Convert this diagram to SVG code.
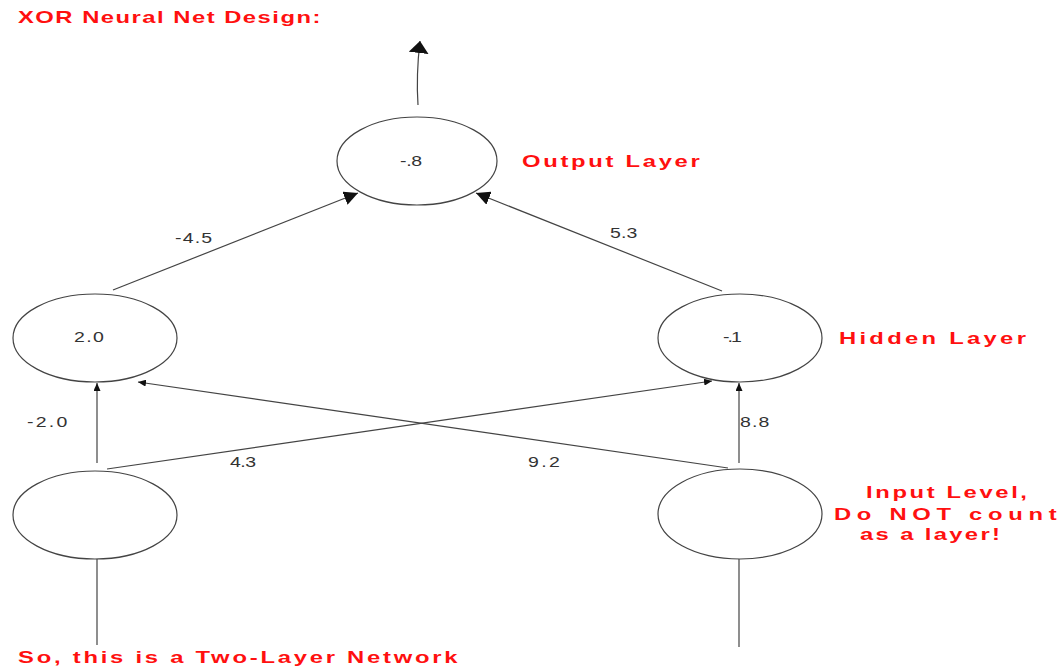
<svg xmlns="http://www.w3.org/2000/svg" width="1060" height="668" viewBox="0 0 1060 668">
<style>
.node{fill:#fff;stroke:#444;stroke-width:1.2}
.edge{fill:none;stroke:#444;stroke-width:1.2}
.val{font-family:"Liberation Sans",Arial,sans-serif;font-size:15px;fill:#333}
.note{font-family:"Liberation Sans",Arial,sans-serif;font-size:17px;font-weight:bold;fill:#ff1010}
</style>
<defs>
<marker id="big" viewBox="0 0 12 20" refX="12" refY="10" markerWidth="12" markerHeight="20" markerUnits="userSpaceOnUse" orient="auto"><path d="M0,0 L12,10 L0,20 Z" fill="#111"/></marker>
<marker id="mid" viewBox="0 0 14 14" refX="14" refY="7" markerWidth="14" markerHeight="14" markerUnits="userSpaceOnUse" orient="auto"><path d="M0,0 L14,7 L0,14 Z" fill="#111"/></marker>
<marker id="small" viewBox="0 0 8 7" refX="8" refY="3.5" markerWidth="8" markerHeight="7" markerUnits="userSpaceOnUse" orient="auto"><path d="M0,0 L8,3.5 L0,7 Z" fill="#111"/></marker>
</defs>
<rect width="1060" height="668" fill="#fff"/>
<text class="note" transform="translate(18,23) scale(1.4,1)" font-size="15" textLength="216" lengthAdjust="spacing">XOR Neural Net Design:</text>
<g id="connectors">
<path class="edge" d="M418,105 Q416,75 420,41" marker-end="url(#big)"/>
<line class="edge" x1="113" y1="290" x2="358" y2="193" marker-end="url(#mid)"/>
<line class="edge" x1="722" y1="291" x2="476" y2="193" marker-end="url(#mid)"/>
<line class="edge" x1="97" y1="463" x2="97" y2="383" marker-end="url(#small)"/>
<line class="edge" x1="739" y1="463" x2="739" y2="383" marker-end="url(#small)"/>
<line class="edge" x1="107" y1="469" x2="712" y2="381" marker-end="url(#small)"/>
<line class="edge" x1="728" y1="468" x2="138" y2="382" marker-end="url(#small)"/>
<line class="edge" x1="97" y1="559" x2="97" y2="645"/>
<line class="edge" x1="739" y1="559" x2="739" y2="647"/>
<text class="val" transform="translate(175,243) scale(1.3,1)" textLength="28.5" lengthAdjust="spacing">-4.5</text>
<text class="val" transform="translate(610,238) scale(1.3,1)" textLength="21" lengthAdjust="spacing">5.3</text>
<text class="val" transform="translate(27,427) scale(1.3,1)" textLength="31" lengthAdjust="spacing">-2.0</text>
<text class="val" transform="translate(740,427) scale(1.3,1)" textLength="22.5" lengthAdjust="spacing">8.8</text>
<text class="val" transform="translate(230,467) scale(1.3,1)" textLength="20" lengthAdjust="spacing">4.3</text>
<text class="val" transform="translate(528,467) scale(1.3,1)" textLength="24.5" lengthAdjust="spacing">9.2</text>
</g>
<g id="output">
<ellipse class="node" cx="417" cy="161" rx="80" ry="44"/>
<text class="val" transform="translate(400,166) scale(1.3,1)" textLength="17" lengthAdjust="spacing">-.8</text>
</g>
<g id="hidden1">
<ellipse class="node" cx="95" cy="338" rx="82" ry="44"/>
<text class="val" transform="translate(74,342) scale(1.3,1)" textLength="23" lengthAdjust="spacing">2.0</text>
</g>
<g id="hidden2">
<ellipse class="node" cx="740" cy="338" rx="82" ry="44"/>
<text class="val" transform="translate(723,342) scale(1.3,1)" textLength="14.5" lengthAdjust="spacing">-.1</text>
</g>
<g id="input1">
<ellipse class="node" cx="95" cy="515" rx="82" ry="44"/>
</g>
<g id="input2">
<ellipse class="node" cx="740" cy="514" rx="82" ry="45"/>
</g>
<g id="labels">
<text class="note" transform="translate(522,167) scale(1.4,1)" textLength="127" lengthAdjust="spacing">Output Layer</text>
<text class="note" transform="translate(839,344) scale(1.4,1)" textLength="133.5" lengthAdjust="spacing">Hidden Layer</text>
<text class="note" transform="translate(866,498) scale(1.4,1)" textLength="115" lengthAdjust="spacing">Input Level,</text>
<text class="note" transform="translate(834,520) scale(1.4,1)" textLength="159" lengthAdjust="spacing">Do NOT count</text>
<text class="note" transform="translate(860,540) scale(1.4,1)" textLength="100" lengthAdjust="spacing">as a layer!</text>
<text class="note" transform="translate(18,663) scale(1.4,1)" textLength="314" lengthAdjust="spacing">So, this is a Two-Layer Network</text>
</g>
</svg>
